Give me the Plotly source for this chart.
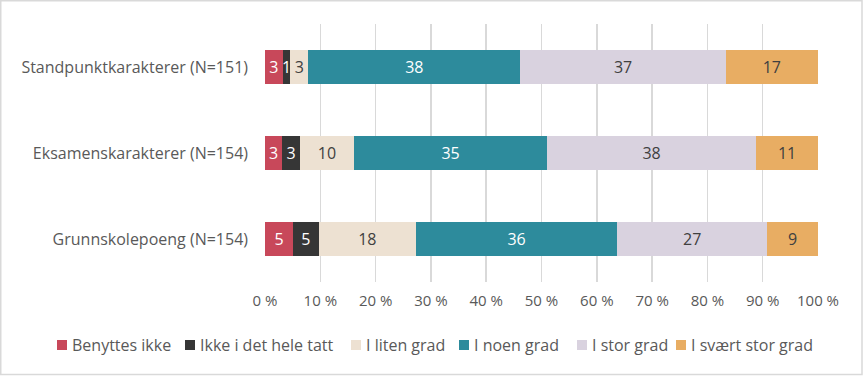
import plotly.graph_objects as go

categories = ["Standpunktkarakterer (N=151)", "Eksamenskarakterer (N=154)", "Grunnskolepoeng (N=154)"]
series_names = ["Benyttes ikke", "Ikke i det hele tatt", "I liten grad", "I noen grad", "I stor grad", "I svært stor grad"]
benyttes_ikke = [3.2, 3.1, 5.1]
ikke_i_det_hele_tatt = [1.4, 3.2, 4.6]
i_liten_grad = [3.2, 9.8, 17.6]
i_noen_grad = [38.4, 34.9, 36.4]
i_stor_grad = [37.1, 37.8, 27.1]
i_svaert_stor_grad = [16.7, 11.2, 9.2]
tick_values = [0, 10, 20, 30, 40, 50, 60, 70, 80, 90, 100]
tick_labels = [f"{v} %" for v in tick_values]

series_values = [benyttes_ikke, ikke_i_det_hele_tatt, i_liten_grad, i_noen_grad, i_stor_grad, i_svaert_stor_grad]
colors = ["#C8485A", "#363636", "#EDE1D2", "#2D8B9C", "#D9D2DF", "#E8AD63"]
text_colors = ["#FFFFFF", "#FFFFFF", "#404040", "#FFFFFF", "#404040", "#404040"]

FONT = "Open Sans"
W, H = 864, 376
ML, MR, MT, MB = 265, 46, 24, 94
pw = W - ML - MR
ph = H - MT - MB

def px_x(x):
    return (x - ML) / pw

def px_y(y):
    return (H - MB - y) / ph

fig = go.Figure()
for name, vals, c, tc in zip(series_names, series_values, colors, text_colors):
    fig.add_trace(go.Bar(
        y=categories, x=vals, name=name, orientation="h",
        marker=dict(color=c, line=dict(width=0)),
        texttemplate="%{x:.0f}", textposition="inside", insidetextanchor="middle",
        textfont=dict(color=tc, size=16, family=FONT),
        constraintext="none",
        hoverinfo="skip",
    ))

# outer border
fig.add_shape(type="rect", xref="paper", yref="paper",
              x0=px_x(0.75), x1=px_x(862), y0=px_y(374.5), y1=px_y(0.75),
              line=dict(color="#D9D9D9", width=1.5), layer="below")

# custom legend (square marker + label), laid out left to right
legend_left = [57, 185, 351, 459, 577, 676]
legend_y = 345
for x0, name, c in zip(legend_left, series_names, colors):
    fig.add_shape(type="rect", xref="paper", yref="paper",
                  x0=px_x(x0), x1=px_x(x0 + 10),
                  y0=px_y(legend_y + 5), y1=px_y(legend_y - 5),
                  fillcolor=c, line=dict(width=0))
    fig.add_annotation(xref="paper", yref="paper", x=px_x(x0 + 13), y=px_y(legend_y),
                       text=name, showarrow=False, xanchor="left", yanchor="middle",
                       font=dict(size=16, color="#595959", family=FONT))

fig.update_layout(
    width=W, height=H,
    margin=dict(l=ML, r=MR, t=MT, b=MB, pad=0),
    barmode="stack", bargap=0.61,
    plot_bgcolor="white", paper_bgcolor="white",
    font=dict(family=FONT, size=15, color="#595959"),
    xaxis=dict(range=[0, 100], tickmode="array", tickvals=tick_values, ticktext=tick_labels,
               showgrid=True, gridcolor="#D9D9D9", gridwidth=1.5,
               zeroline=False, showline=False, ticks="", ticklabelstandoff=8,
               tickfont=dict(size=15, color="#595959", family=FONT), fixedrange=True),
    yaxis=dict(categoryorder="array", categoryarray=categories[::-1],
               showgrid=False, zeroline=False, showline=False, ticks="",
               ticklabelstandoff=16, fixedrange=True,
               tickfont=dict(size=16, color="#595959", family=FONT)),
    showlegend=False,
)

fig.write_html("out.html", config={"displayModeBar": False, "staticPlot": True},
               post_script="document.body.style.margin='0';document.body.style.padding='0';")
